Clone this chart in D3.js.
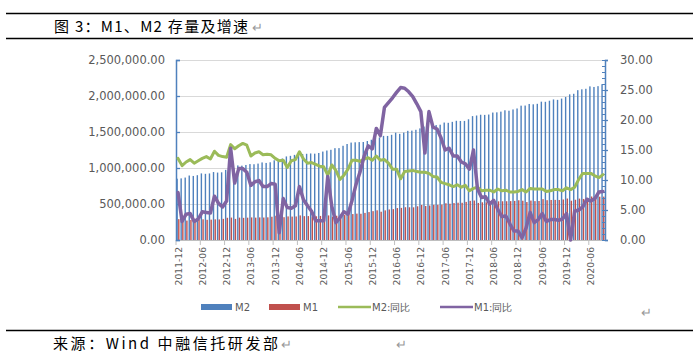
<!DOCTYPE html>
<html><head><meta charset="utf-8">
<script src="https://cdn.jsdelivr.net/npm/d3@7"></script>
<style>body{margin:0;background:#fff}svg{display:block}</style>
</head><body>
<svg id="c" width="693" height="357"></svg>
<script>
// Categories: monthly, 2011-12 .. 2020-09
const categories = d3.timeMonth.range(new Date(2011, 11, 1), new Date(2020, 9, 1)).map(d3.timeFormat("%Y-%m"));

// M2 stock (亿元)
const m2 = [
  851591,
  855898, 867172, 895566, 889604, 900049, 924991, 919072, 924538, 943688, 936404, 940060, 974149,
  992129, 998601, 1035858, 1032552, 1042169, 1054404, 1052212, 1061256, 1077379, 1070242, 1079257, 1106525,
  1123521, 1131760, 1160687, 1168812, 1182300, 1209587, 1194249, 1197499, 1202051, 1199236, 1208606, 1228375,
  1242710, 1252609, 1275333, 1276085, 1308616, 1333375, 1353211, 1356911, 1359824, 1361022, 1374956, 1392278,
  1416319, 1424619, 1446198, 1445209, 1461065, 1490492, 1474423, 1491552, 1516360, 1519469, 1530439, 1550067,
  1575945, 1582911, 1599609, 1596331, 1601440, 1631282, 1627588, 1641026, 1655662, 1653437, 1653919, 1676769,
  1720814, 1729095, 1739859, 1737684, 1742616, 1770179, 1772991, 1783000, 1801665, 1795558, 1813189, 1826744,
  1865935, 1867427, 1889412, 1884670, 1891544, 1921360, 1919410, 1934420, 1952250, 1946530, 1964100, 1986489,
  2023066, 2030830, 2080923, 2092900, 2100184, 2133948, 2125458, 2136837, 2164084
];
// M1 stock (亿元)
const m1 = [
  289848,
  270010, 270204, 277998, 275106, 278656, 287526, 280416, 282839, 286789, 285786, 293596, 308673,
  311229, 293187, 310899, 307648, 310205, 313499, 310599, 314085, 312330, 314898, 322860, 337291,
  314900, 316625, 327683, 325216, 327055, 341487, 331348, 332023, 327220, 329617, 334330, 348056,
  341320, 323500, 337210, 337110, 346560, 356083, 360200, 366200, 364416, 376336, 387900, 400953,
  412300, 392600, 411581, 424000, 429000, 443643, 446000, 455000, 454340, 454000, 468000, 486557,
  471810, 479000, 488770, 489000, 492000, 510000, 504000, 513000, 517863, 517000, 529000, 543790,
  548000, 515000, 523540, 524000, 525000, 544000, 537000, 538000, 538574, 540000, 543000, 551686,
  545600, 527200, 547500, 540000, 542000, 567700, 553000, 556000, 557100, 556000, 563000, 576009,
  545500, 559000, 575100, 570000, 581000, 604300, 591200, 601300, 602300
];
// M2 YoY (%)
const m2yoy = [
  13.6,
  12.4, 13.0, 13.4, 12.8, 13.2, 13.6, 13.9, 13.5, 14.8, 14.1, 13.9, 13.8,
  15.9, 15.2, 15.7, 16.1, 15.8, 14.0, 14.5, 14.7, 14.2, 14.3, 14.2, 13.6,
  13.2, 13.3, 12.1, 13.2, 13.4, 14.7, 13.5, 12.8, 12.9, 12.6, 12.3, 12.2,
  10.8, 12.5, 11.6, 10.1, 10.8, 11.8, 13.3, 13.3, 13.1, 13.5, 13.7, 13.3,
  14.0, 13.3, 13.4, 12.8, 11.8, 11.8, 10.2, 11.4, 11.5, 11.6, 11.4, 11.3,
  11.3, 11.1, 10.6, 10.5, 9.6, 9.4, 9.2, 8.9, 9.2, 8.8, 9.1, 8.2,
  8.6, 8.8, 8.2, 8.3, 8.3, 8.0, 8.5, 8.2, 8.3, 8.0, 8.0, 8.1,
  8.4, 8.0, 8.6, 8.5, 8.5, 8.5, 8.1, 8.2, 8.4, 8.4, 8.2, 8.7,
  8.4, 8.8, 10.1, 11.1, 11.1, 11.1, 10.7, 10.4, 10.9
];
// M1 YoY (%)
const m1yoy = [
  7.9,
  3.1, 4.3, 4.4, 3.1, 3.5, 4.7, 4.6, 4.5, 7.3, 6.1, 5.5, 6.5,
  15.3, 9.5, 11.9, 11.9, 11.3, 9.1, 9.7, 9.9, 8.9, 8.9, 9.4, 9.3,
  1.2, 6.9, 5.4, 5.3, 5.7, 8.9, 6.7, 5.7, 4.8, 3.2, 3.2, 3.2,
  10.6, 5.6, 2.9, 3.7, 4.7, 4.3, 6.6, 9.3, 11.4, 14.0, 15.7, 15.2,
  18.6, 17.4, 22.1, 22.9, 23.7, 24.6, 25.4, 25.3, 24.7, 23.9, 22.7, 21.4,
  14.5, 21.4, 18.8, 18.5, 17.0, 15.0, 15.3, 14.0, 14.0, 13.0, 12.7, 11.8,
  15.0, 8.5, 7.1, 7.2, 6.0, 6.6, 5.1, 3.9, 4.0, 2.7, 1.5, 1.5,
  0.4, 2.0, 4.6, 2.9, 3.4, 4.4, 3.1, 3.4, 3.4, 3.3, 3.5, 4.4,
  0.0, 4.8, 5.0, 5.5, 6.8, 6.5, 6.9, 8.0, 8.1
];
const leftTicks = [0, 500000, 1000000, 1500000, 2000000, 2500000];
const rightTicks = [0, 5, 10, 15, 20, 25, 30];
const seriesNames = ["M2", "M1", "M2:同比", "M1:同比"];
const titleText = "图 3：M1、M2 存量及增速";
const sourceText = "来源：Wind 中融信托研发部";

const C = {blue: "#4F81BD", red: "#C0504D", green: "#9BBB59", purple: "#8064A2", label: "#595959", grid: "#D9D9D9"};
const svg = d3.select("#c");
const L = 176, R = 605, T = 60, B = 240;

const x = d3.scaleBand().domain(categories).range([L, R]).padding(0);
const yL = d3.scaleLinear().domain([0, 2500000]).range([B, T]);
const yR = d3.scaleLinear().domain([0, 30]).range([B, T]);
const bw = x.bandwidth();

// header / footer rules
svg.append("line").attr("x1", 6).attr("x2", 693).attr("y1", 13.5).attr("y2", 13.5).attr("stroke", "#000").attr("stroke-width", 1.3);
svg.append("line").attr("x1", 6).attr("x2", 693).attr("y1", 38.5).attr("y2", 38.5).attr("stroke", "#000").attr("stroke-width", 1.3);
svg.append("line").attr("x1", 6).attr("x2", 693).attr("y1", 330.5).attr("y2", 330.5).attr("stroke", "#000").attr("stroke-width", 1.3);

const cjk = "'Noto Sans CJK SC', sans-serif";
svg.append("text").attr("x", 54).attr("y", 32).attr("font-family", cjk).attr("font-size", 15)
  .attr("textLength", 194).attr("lengthAdjust", "spacing").text(titleText);
svg.append("text").attr("x", 252).attr("y", 32).attr("font-family", cjk).attr("font-size", 13).attr("fill", "#999").text("↵");
svg.append("text").attr("x", 53).attr("y", 348.5).attr("font-family", cjk).attr("font-size", 15)
  .attr("textLength", 225).attr("lengthAdjust", "spacing").text(sourceText);
svg.append("text").attr("x", 281).attr("y", 348.5).attr("font-family", cjk).attr("font-size", 13).attr("fill", "#999").text("↵");
svg.append("text").attr("x", 396).attr("y", 348.5).attr("font-family", cjk).attr("font-size", 13).attr("fill", "#999").text("↵");
svg.append("text").attr("x", 641).attr("y", 317).attr("font-family", cjk).attr("font-size", 13).attr("fill", "#999").text("↵");

const font = "'DejaVu Sans', Verdana, sans-serif";

// gridlines
svg.append("g").attr("transform", `translate(${L},0)`)
  .call(d3.axisLeft(yL).tickValues(leftTicks.slice(1)).tickSize(-(R - L)).tickFormat(""))
  .call(g => g.select(".domain").remove())
  .call(g => g.selectAll("line").attr("stroke", C.grid).attr("stroke-width", 1));

// bars
svg.append("g").selectAll("rect").data(categories).join("rect")
  .attr("x", d => x(d) + 0.4).attr("width", 1.4)
  .attr("y", (d, i) => yL(m2[i])).attr("height", (d, i) => B - yL(m2[i]))
  .attr("fill", C.blue);
svg.append("g").selectAll("rect").data(categories).join("rect")
  .attr("x", d => x(d) + 2.1).attr("width", 1.4)
  .attr("y", (d, i) => yL(m1[i])).attr("height", (d, i) => B - yL(m1[i]))
  .attr("fill", C.red);

// x axis
const xTickCats = categories.filter((d, i) => i % 6 === 0);
const xa = svg.append("g").attr("transform", `translate(0,${B})`);
xa.append("line").attr("x1", L).attr("x2", R).attr("y1", 0.5).attr("y2", 0.5).attr("stroke", "#BFBFBF");
xa.selectAll("line.t").data(xTickCats).join("line").attr("class", "t")
  .attr("x1", d => x(d)).attr("x2", d => x(d)).attr("y1", 0).attr("y2", 5).attr("stroke", "#BFBFBF");
xa.selectAll("text").data(xTickCats).join("text")
  .attr("transform", d => `translate(${x(d) + bw / 2 + 3.5},7) rotate(-90)`)
  .attr("text-anchor", "end").attr("font-family", font).attr("font-size", 9.2).attr("fill", C.label).text(d => d);

// left axis
svg.append("g").attr("transform", `translate(${L},0)`)
  .call(d3.axisLeft(yL).tickValues(leftTicks).tickSize(-4).tickPadding(11).tickFormat(d3.format(",.2f")))
  .call(g => g.select(".domain").attr("stroke", C.blue).attr("stroke-width", 1.5))
  .call(g => g.selectAll("line").attr("stroke", C.blue).attr("stroke-width", 1.3))
  .call(g => g.selectAll("text").attr("font-family", font).attr("font-size", 11.5).attr("fill", C.label));

// right axis (minor + major)
svg.append("g").attr("transform", `translate(${R},0)`)
  .call(d3.axisRight(yR).tickValues(d3.range(0, 31, 1)).tickSize(-3).tickFormat(""))
  .call(g => g.select(".domain").remove())
  .call(g => g.selectAll("line").attr("stroke", C.blue).attr("stroke-width", 1));
svg.append("g").attr("transform", `translate(${R},0)`)
  .call(d3.axisRight(yR).tickValues(rightTicks).tickSize(3).tickPadding(12).tickFormat(d3.format(".2f")))
  .call(g => g.select(".domain").attr("stroke", C.blue).attr("stroke-width", 1.5))
  .call(g => g.selectAll("line").attr("stroke", C.blue).attr("stroke-width", 1.3))
  .call(g => g.selectAll("text").attr("font-family", font).attr("font-size", 11.5).attr("fill", C.label));

// lines
const lineR = arr => d3.line().x((d, i) => x(categories[i]) + bw / 2).y(d => yR(d))(arr);
svg.append("path").attr("d", lineR(m2yoy)).attr("fill", "none").attr("stroke", C.green)
  .attr("stroke-width", 3).attr("stroke-linejoin", "round").attr("stroke-linecap", "round");
svg.append("path").attr("d", lineR(m1yoy)).attr("fill", "none").attr("stroke", C.purple)
  .attr("stroke-width", 3.5).attr("stroke-linejoin", "round").attr("stroke-linecap", "round");

// legend
const lg = svg.append("g").attr("font-family", font).attr("font-size", 10).attr("fill", C.label);
const legendItems = [
  {name: seriesNames[0], color: C.blue, type: "rect", x: 201},
  {name: seriesNames[1], color: C.red, type: "rect", x: 269},
  {name: seriesNames[2], color: C.green, type: "line", x: 338},
  {name: seriesNames[3], color: C.purple, type: "line", x: 440}
];
legendItems.forEach(it => {
  if (it.type === "rect") {
    lg.append("rect").attr("x", it.x).attr("y", 304).attr("width", 31).attr("height", 6).attr("fill", it.color);
  } else {
    lg.append("line").attr("x1", it.x).attr("x2", it.x + 33).attr("y1", 307).attr("y2", 307)
      .attr("stroke", it.color).attr("stroke-width", 2.5);
  }
  lg.append("text").attr("x", it.x + 34).attr("y", 311).text(it.name);
});
</script>
</body></html>
